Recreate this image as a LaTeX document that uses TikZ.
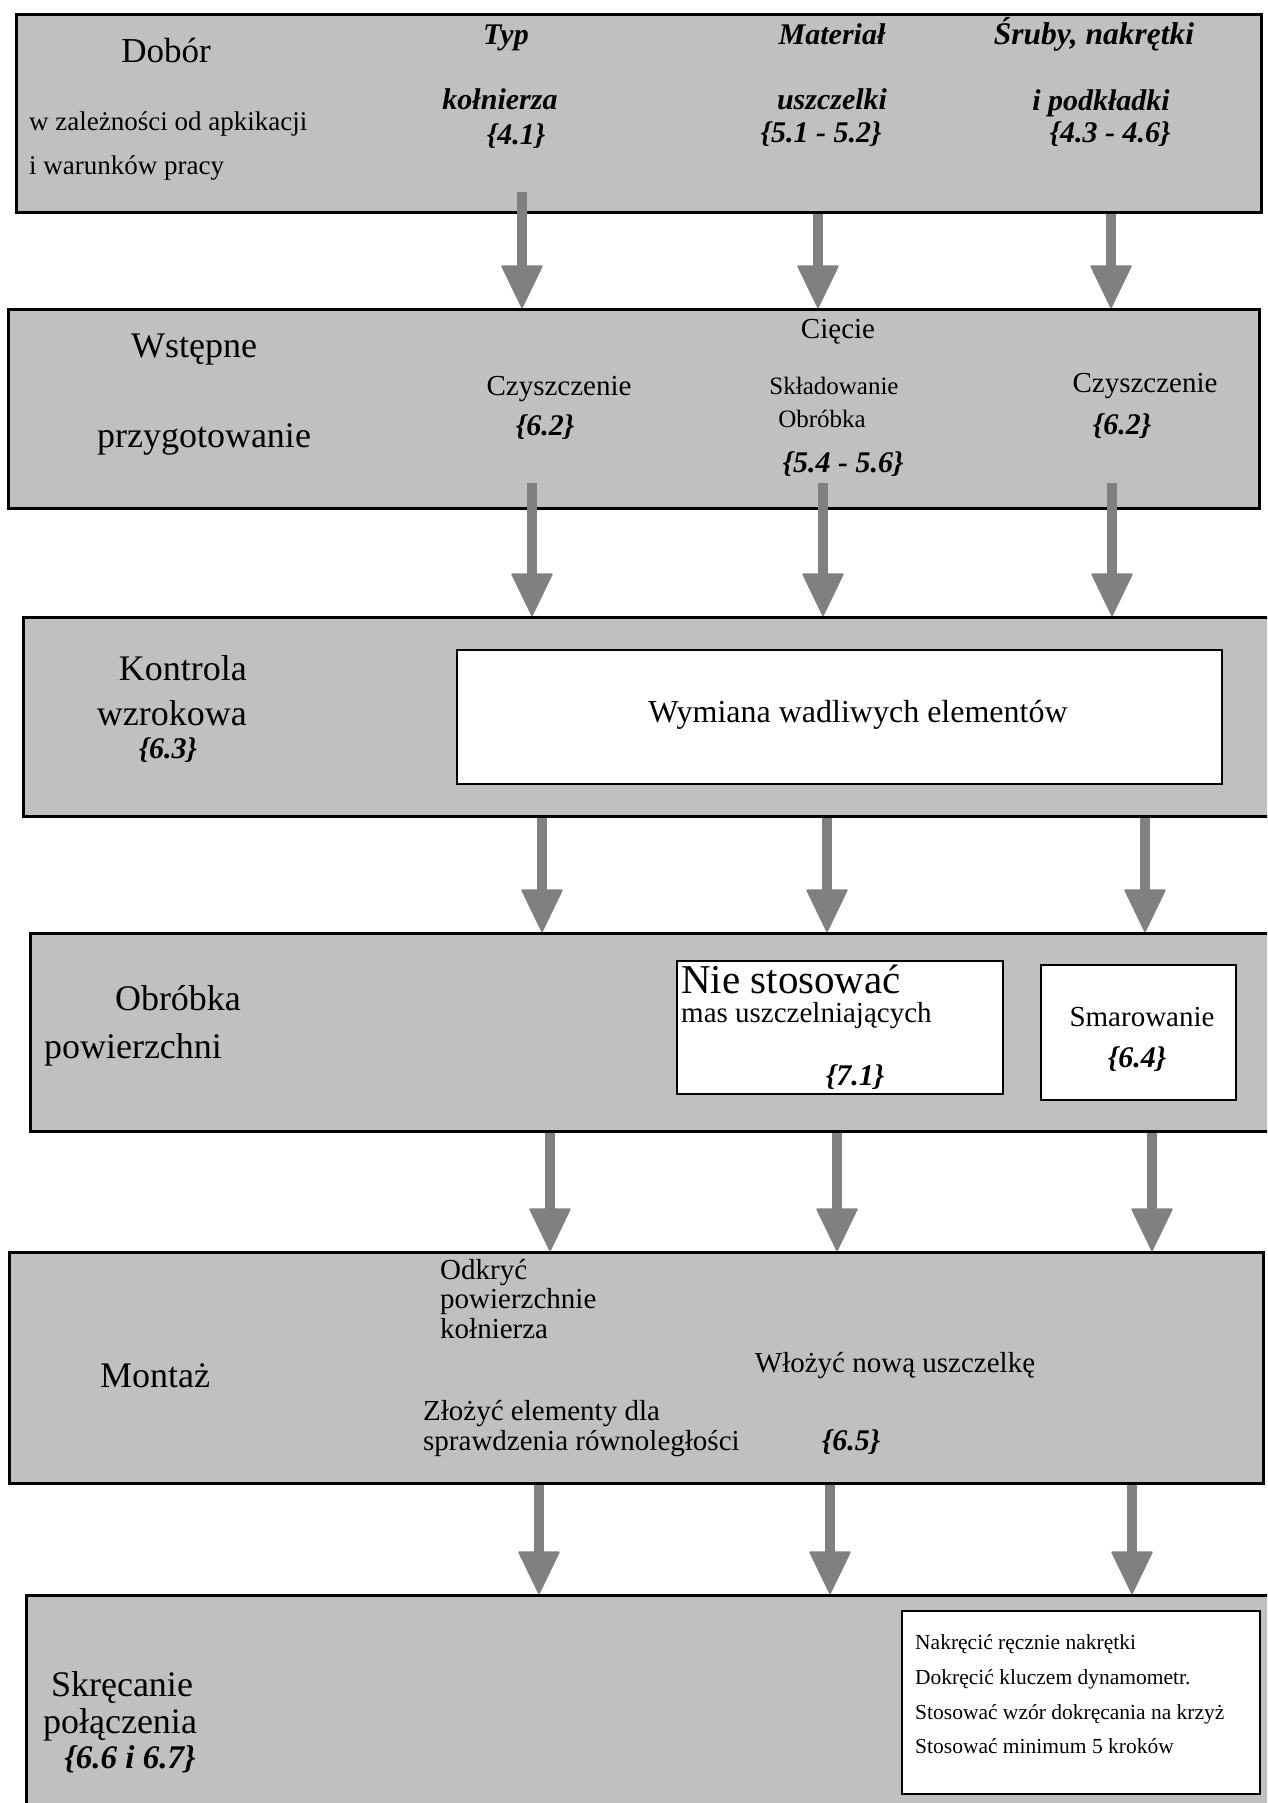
\documentclass[tikz,border=0pt]{standalone}
\usepackage{fontspec}
\setmainfont{Liberation Serif}
\usepackage{xcolor}
\usetikzlibrary{arrows.meta}

\definecolor{boxgray}{RGB}{192,192,192}
\definecolor{arrowgray}{RGB}{128,128,128}

\tikzset{
	stage/.style = {draw=black, line width=3pt, fill=boxgray, anchor=north west, inner sep=0pt},
	note/.style = {draw=black, line width=2pt, fill=white, anchor=north west, inner sep=0pt},
	flow/.style = {draw=arrowgray, line width=10pt,
		-{Triangle[width=42pt, length=44pt, line width=2pt, round, fill=arrowgray]}},
	lbl/.style = {inner sep=0pt, anchor=base},
	title/.style = {lbl, font=\fontsize{36}{40}\selectfont},
	body/.style = {lbl, font=\fontsize{29}{30}\selectfont},
	minor/.style = {lbl, font=\fontsize{25}{28}\selectfont},
	tiny/.style = {lbl, font=\fontsize{21.5}{24}\selectfont},
	ref/.style = {lbl, font=\fontsize{30}{34}\selectfont\bfseries\itshape}
}

\begin{document}
\begin{tikzpicture}[x=1pt, y=-1pt]
	\useasboundingbox (0,0) rectangle (1267,1803);
	\clip (0,0) rectangle (1267,1803);

	% etapy
	\node[stage, minimum width=1245pt, minimum height=198pt] (dobor) at (15,13) {};
	\node[stage, minimum width=1251pt, minimum height=199pt] (wstepne) at (7,308) {};
	\node[stage, minimum width=1268pt, minimum height=199pt] (kontrola) at (22,616) {};
	\node[stage, minimum width=1261pt, minimum height=198pt] (obrobka) at (29,932) {};
	\node[stage, minimum width=1254pt, minimum height=231pt] (montaz) at (8,1251) {};
	\node[stage, minimum width=1265pt, minimum height=236pt] (skrecanie) at (25,1594) {};

	% wewnetrzne ramki
	\node[note, minimum width=765pt, minimum height=134pt] (wymiana) at (456,649) {};
	\node[note, minimum width=326pt, minimum height=133pt] (niestos) at (676,960) {};
	\node[note, minimum width=195pt, minimum height=135pt] (smar) at (1040,964) {};
	\node[note, minimum width=358pt, minimum height=183pt] (kroki) at (901,1610) {};

	% strzalki
	\draw[flow] (522,192) -- (522,0 |- wstepne.north);
	\foreach \x in {818,1111}
		\draw[flow] (\x,0 |- dobor.south) -- (\x,0 |- wstepne.north);
	\foreach \x in {532,823,1112}
		\draw[flow] (\x,483) -- (\x,0 |- kontrola.north);
	\foreach \x in {542,827,1145}
		\draw[flow] (\x,0 |- kontrola.south) -- (\x,0 |- obrobka.north);
	\foreach \x in {550,837,1152}
		\draw[flow] (\x,0 |- obrobka.south) -- (\x,0 |- montaz.north);
	\foreach \x in {539,830,1132}
		\draw[flow] (\x,0 |- montaz.south) -- (\x,0 |- skrecanie.north);

	% Dobor
	\node[title, font=\fontsize{35}{40}\selectfont] (dobortxt) at (166,63) {Dobór};
	\node[body, anchor=base west, font=\fontsize{27}{30}\selectfont] (zalez) at (29,131) {w zależności od apkikacji};
	\node[body, anchor=base west, font=\fontsize{27}{30}\selectfont] (warunki) at (29,175) {i warunków pracy};
	\node[ref] (typ) at (506,45) {Typ};
	\node[ref] (kolnierz) at (500,110) {kołnierza};
	\node[ref] (r41) at (516,145) {\{4.1\}};
	\node[ref] (material) at (832,45) {Materiał};
	\node[ref] (uszczelki) at (832,110) {uszczelki};
	\node[ref] (r51) at (821,143) {\{5.1 - 5.2\}};
	\node[ref, font=\fontsize{31.5}{34}\selectfont\bfseries\itshape] (sruby) at (1094,45) {Śruby, nakrętki};
	\node[ref] (podkladki) at (1101,111) {i podkładki};
	\node[ref] (r43) at (1110,143) {\{4.3 - 4.6\}};

	% Wstepne przygotowanie
	\node[title] (wst1) at (194,357) {Wstępne};
	\node[title] (wst2) at (204,447) {przygotowanie};
	\node[body] (czysz1) at (559,395) {Czyszczenie};
	\node[ref] (r62a) at (545,435) {\{6.2\}};
	\node[body] (ciecie) at (838,338) {Cięcie};
	\node[minor] (sklad) at (834,394) {Składowanie};
	\node[minor] (obr) at (822,427) {Obróbka};
	\node[ref] (r54) at (843,472) {\{5.4 - 5.6\}};
	\node[body] (czysz2) at (1145,392) {Czyszczenie};
	\node[ref] (r62b) at (1122,434) {\{6.2\}};

	% Kontrola
	\node[title, anchor=base east] (kon1) at (247,680) {Kontrola};
	\node[title, anchor=base east] (kon2) at (247,725) {wzrokowa};
	\node[ref] (r63) at (168,758) {\{6.3\}};
	\node[lbl, font=\fontsize{32}{36}\selectfont] (wymtxt) at (858,722) {Wymiana wadliwych elementów};

	% Obrobka powierzchni
	\node[title] (obr1) at (178,1010) {Obróbka};
	\node[title] (obr2) at (133,1058) {powierzchni};
	\node[lbl, anchor=base west, font=\fontsize{41}{44}\selectfont] (nie) at (681,993) {Nie stosować};
	\node[body, anchor=base west, font=\fontsize{29}{30}\selectfont] (mas) at (681,1022) {mas uszczelniających};
	\node[ref] (r71) at (855,1085) {\{7.1\}};
	\node[body] (smartxt) at (1142,1026) {Smarowanie};
	\node[ref] (r64) at (1137,1067) {\{6.4\}};

	% Montaz
	\node[title] (mon) at (155,1387) {Montaż};
	\node[body, anchor=base west] (odk1) at (440,1279) {Odkryć};
	\node[body, anchor=base west] (odk2) at (440,1308) {powierzchnie};
	\node[body, anchor=base west] (odk3) at (440,1338) {kołnierza};
	\node[body] (wloz) at (895,1372) {Włożyć nową uszczelkę};
	\node[body, anchor=base west] (zloz1) at (423,1420) {Złożyć elementy dla};
	\node[body, anchor=base west] (zloz2) at (423,1450) {sprawdzenia równoległości};
	\node[ref] (r65) at (851,1450) {\{6.5\}};

	% Skrecanie
	\node[title] (skr1) at (122,1696) {Skręcanie};
	\node[title] (skr2) at (120,1733) {połączenia};
	\node[ref, font=\fontsize{33}{36}\selectfont\bfseries\itshape] (r66) at (130,1768) {\{6.6 i 6.7\}};
	\node[tiny, anchor=base west] (k1) at (915,1649) {Nakręcić ręcznie nakrętki};
	\node[tiny, anchor=base west] (k2) at (915,1684) {Dokręcić kluczem dynamometr.};
	\node[tiny, anchor=base west] (k3) at (915,1719) {Stosować wzór dokręcania na krzyż};
	\node[tiny, anchor=base west] (k4) at (915,1753) {Stosować minimum 5 kroków};
\end{tikzpicture}
\end{document}
